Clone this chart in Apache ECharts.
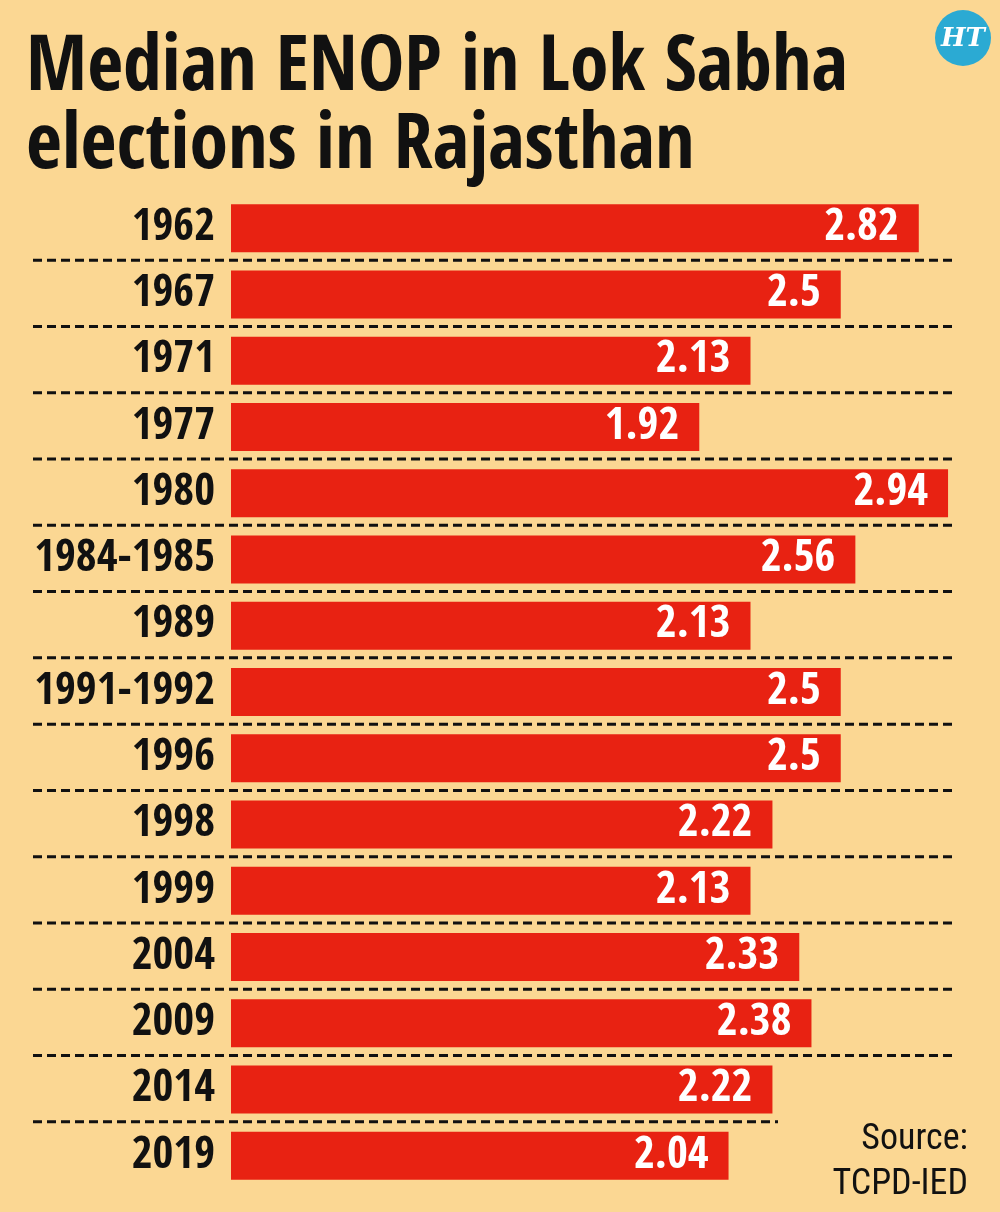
<!DOCTYPE html>
<html><head><meta charset="utf-8">
<script src="https://cdn.jsdelivr.net/npm/echarts@6/dist/echarts.min.js"></script>
<style>html,body{margin:0;padding:0;background:#FBD793;}#c{width:1000px;height:1212px;}</style>
</head><body><div id="c"></div>
<script>
const categories = ["1962","1967","1971","1977","1980","1984-1985","1989","1991-1992","1996","1998","1999","2004","2009","2014","2019"];
const values = [2.82,2.5,2.13,1.92,2.94,2.56,2.13,2.5,2.5,2.22,2.13,2.33,2.38,2.22,2.04];
const titleText = "Median ENOP in Lok Sabha\nelections in Rajasthan";
const sourceText = "Source:\nTCPD-IED";

const FONT = '"Open Sans Condensed", "Roboto Condensed", sans-serif';
const chart = echarts.init(document.getElementById('c'));
const option = {
  backgroundColor: '#FBD793',
  animation: false,
  title: {
    text: titleText, left: 21, top: 26,
    textStyle: { fontFamily: FONT, fontWeight: 'bold', fontSize: 78, lineHeight: 78, color: '#111' }
  },
  grid: { left: 231, right: 0, top: 195, bottom: 23, containLabel: false, outerBoundsMode: 'none' },
  xAxis: { type: 'value', min: 0, max: 3.153, show: false },
  yAxis: {
    type: 'category', data: categories, inverse: true,
    axisLine: { show: false }, axisTick: { show: false }, splitLine: { show: false },
    axisLabel: { margin: 16, fontFamily: FONT, fontWeight: 'bold', fontSize: 45, color: '#111' }
  },
  series: [{
    type: 'bar', data: values, barWidth: 48,
    itemStyle: { color: '#E82212' },
    label: { show: true, position: 'insideRight', distance: 20, fontFamily: FONT, fontWeight: 'bold', fontSize: 45, color: '#fff',
      formatter: p => String(p.value) }
  }]
};
chart.setOption(option);

function drawDecor() {
  const els = [];
  for (let i = 0; i < categories.length - 1; i++) {
    const y1 = chart.convertToPixel({ yAxisIndex: 0 }, categories[i]);
    const y2 = chart.convertToPixel({ yAxisIndex: 0 }, categories[i + 1]);
    const y = (y1 + y2) / 2 - 1;
    const x2 = (i === categories.length - 2) ? 778 : 954;
    els.push({ type: 'line', shape: { x1: 33, y1: y, x2: x2, y2: y },
      style: { stroke: '#111', lineWidth: 3, lineDash: [9, 5] }, silent: true });
  }
  els.push({ type: 'text', right: 32, top: 1117,
    style: { text: sourceText, font: '36px "Roboto Condensed", sans-serif', fill: '#111', textAlign: 'right', lineHeight: 45 } });
  els.push({ type: 'circle', shape: { cx: 963, cy: 38, r: 28 }, style: { fill: '#2BAAD3' } });
  els.push({ type: 'text', x: 963, y: 39,
    style: { text: 'HT', font: 'italic bold 26px "DejaVu Serif", serif', fill: '#fff', textAlign: 'center', textVerticalAlign: 'middle' } });
  chart.setOption({ graphic: { elements: els } });
}
drawDecor();
</script></body></html>
